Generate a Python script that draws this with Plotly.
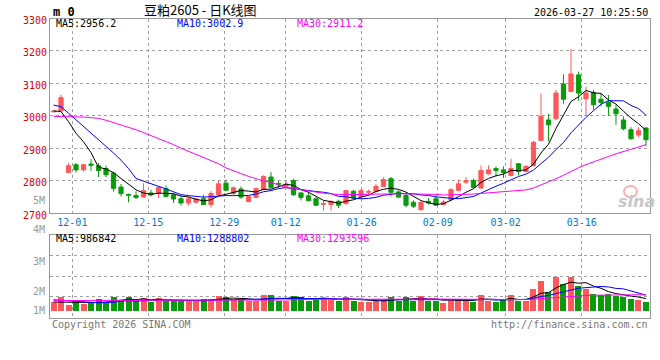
import plotly.graph_objects as go
import pandas as pd

# ---------------- data ----------------
# candle index -1 .. 78 (index -1 is only partly visible at the left edge)
idx = list(range(-1, 79))
opens = [3012, 3015, 2825, 2849, 2833, 2851, 2846, 2837, 2823, 2780,
         2757, 2754, 2749, 2762, 2760, 2775, 2756, 2744, 2731, 2733,
         2744, 2726, 2756, 2792, 2760, 2774, 2735, 2748, 2772, 2811,
         2791, 2782, 2800, 2762, 2753, 2744, 2727, 2726, 2736, 2729,
         2767, 2751, 2764, 2766, 2782, 2806, 2765, 2754, 2733, 2710,
         2736, 2744, 2726, 2741, 2770, 2795, 2800, 2777, 2821, 2837,
         2833, 2816, 2852, 2828, 2846, 2924, 2987, 2991, 3098, 3075,
         3126, 3052, 3072, 3051, 3042, 3021, 2987, 2957, 2941, 2962]
highs = [3015, 3065, 2854, 2854, 2851, 2867, 2854, 2846, 2828, 2790,
         2760, 2767, 2792, 2772, 2782, 2785, 2762, 2751, 2751, 2746,
         2756, 2767, 2800, 2803, 2782, 2782, 2753, 2779, 2816, 2826,
         2800, 2798, 2805, 2764, 2764, 2749, 2738, 2738, 2741, 2770,
         2772, 2774, 2772, 2790, 2810, 2811, 2770, 2762, 2739, 2735,
         2746, 2754, 2741, 2777, 2803, 2811, 2806, 2846, 2847, 2844,
         2844, 2867, 2854, 2847, 2923, 3068, 3006, 3080, 3128, 3206,
         3136, 3090, 3080, 3068, 3064, 3034, 2998, 2965, 2965, 2965]
lows = [3011, 3013, 2824, 2825, 2828, 2830, 2811, 2811, 2766, 2751,
        2733, 2743, 2748, 2751, 2746, 2749, 2731, 2723, 2723, 2731,
        2724, 2717, 2754, 2767, 2756, 2744, 2733, 2746, 2770, 2776,
        2777, 2777, 2753, 2739, 2736, 2721, 2707, 2708, 2715, 2726,
        2743, 2749, 2754, 2764, 2780, 2751, 2746, 2717, 2715, 2708,
        2726, 2722, 2724, 2736, 2767, 2790, 2777, 2775, 2818, 2813,
        2808, 2813, 2816, 2825, 2844, 2922, 2921, 2987, 3037, 3073,
        3046, 3000, 3018, 3029, 3000, 2972, 2955, 2926, 2934, 2907]
closes = [3014, 3056, 2846, 2833, 2849, 2847, 2831, 2818, 2776, 2760,
          2755, 2748, 2769, 2756, 2779, 2751, 2743, 2731, 2744, 2743,
          2726, 2760, 2790, 2770, 2778, 2749, 2751, 2775, 2813, 2779,
          2789, 2789, 2756, 2748, 2738, 2724, 2729, 2736, 2724, 2769,
          2746, 2769, 2766, 2782, 2803, 2764, 2749, 2724, 2721, 2733,
          2731, 2724, 2734, 2772, 2790, 2800, 2779, 2831, 2833, 2831,
          2825, 2837, 2828, 2844, 2918, 2998, 2972, 3070, 3051, 3129,
          3070, 3070, 3034, 3041, 3029, 3006, 2960, 2929, 2954, 2926]
volumes = [700000, 1130000, 480000, 700000, 540000, 700000, 970000, 700000, 1130000, 800000,
           1130000, 800000, 1040000, 700000, 1040000, 770000, 770000, 770000, 880000, 770000,
           970000, 970000, 1230000, 1130000, 880000, 880000, 800000, 800000, 1280000, 1280000,
           830000, 830000, 1200000, 1130000, 830000, 970000, 1040000, 880000, 830000, 1130000,
           830000, 700000, 700000, 830000, 970000, 1130000, 830000, 1130000, 830000, 1200000,
           830000, 830000, 640000, 970000, 970000, 880000, 750000, 1280000, 830000, 750000,
           940000, 1280000, 830000, 830000, 1770000, 2410000, 1530000, 2730000, 2170000, 2730000,
           2010000, 1740000, 1370000, 1280000, 1370000, 1230000, 1150000, 970000, 880000, 750000]

# moving-average values at the left edge (their history lies outside the chart)
ma5_head = [3015, 3013, 2982, 2946]
ma10_head = [3033, 3028, 3008, 2988, 2968, 2948, 2928, 2908, 2885]
ma30_head = [2998, 2998, 2998, 2997, 2996, 2994, 2992, 2986, 2979, 2971,
             2964, 2957, 2948, 2939, 2930, 2921, 2911, 2900, 2890, 2880,
             2870, 2862, 2852, 2839, 2830, 2820, 2813, 2806, 2799]
vma5_head = [720000, 720000, 700000, 660000]
vma10_head = [900000, 860000, 780000, 720000, 680000, 660000, 660000, 680000, 700000]
vma30_head = [840000, 840000, 840000, 840000, 840000, 840000, 840000, 840000, 840000, 840000,
              840000, 840000, 840000, 840000, 840000, 840000, 840000, 840000, 840000, 840000,
              850000, 850000, 860000, 860000, 870000, 870000, 880000, 880000, 880000]

tick_labels = ["12-01", "12-15", "12-29", "01-12", "01-26", "02-09", "03-02", "03-16"]
tick_pos = [1.51, 11.64, 21.77, 29.96, 40.09, 50.23, 59.29, 69.43]
price_ticks = [2700, 2800, 2900, 3000, 3100, 3200, 3300]
ma_text = ["MA5:2956.2", "MA10:3002.9", "MA30:2911.2"]
vma_text = ["MA5:986842", "MA10:1288802", "MA30:1293596"]
vol_labels = ["5M", "4M", "3M", "2M", "1M"]


# ---------------- derived ----------------
def with_head(values, n, head):
    s = pd.Series(values, dtype=float).rolling(n).mean()
    s.iloc[:len(head)] = head
    return s.tolist()

ma5 = with_head(closes, 5, ma5_head)
ma10 = with_head(closes, 10, ma10_head)
ma30 = with_head(closes, 30, ma30_head)
vma5 = with_head(volumes, 5, vma5_head)
vma10 = with_head(volumes, 10, vma10_head)
vma30 = with_head(volumes, 30, vma30_head)

# ---------------- style ----------------
W, H = 660, 360
UP = "#FF5858"
DOWN = "#0A9B0A"
MA_COLORS = ["#000000", "#0000FF", "#FF00FF"]
MONO = "DejaVu Sans Mono"
BORDER = "#999999"
GRID = "#A0A0A0"


def fx(x):
    return x / W


def fy(y):
    return 1 - y / H


X0, X1 = 50, 649.5
XR = [-1.47, 78.47]
V_LO, V_HI = -538000, 6129000

fig = go.Figure()
fig.add_trace(go.Candlestick(
    x=idx, open=opens, high=highs, low=lows, close=closes,
    increasing=dict(line=dict(color=UP, width=1), fillcolor=UP),
    decreasing=dict(line=dict(color=DOWN, width=1), fillcolor=DOWN),
    whiskerwidth=0, xaxis="x", yaxis="y", hoverinfo="skip"))
for series, col in zip([ma5, ma10, ma30], MA_COLORS):
    fig.add_trace(go.Scatter(x=idx, y=series, mode="lines",
                             line=dict(color=col, width=1),
                             xaxis="x", yaxis="y", hoverinfo="skip"))
vol_colors = [UP if c >= o else DOWN for o, c in zip(opens, closes)]
fig.add_trace(go.Bar(x=idx, y=volumes, width=0.8,
                     marker=dict(color=vol_colors, line=dict(width=0)),
                     xaxis="x2", yaxis="y2", hoverinfo="skip"))
for series, col in zip([vma5, vma10, vma30], MA_COLORS):
    fig.add_trace(go.Scatter(x=idx, y=series, mode="lines",
                             line=dict(color=col, width=1),
                             xaxis="x2", yaxis="y2", hoverinfo="skip"))

common = dict(showline=True, mirror=True, linecolor=BORDER, linewidth=1,
              zeroline=False, showgrid=True, gridcolor=GRID, griddash="dot",
              gridwidth=1, ticks="", automargin=False)
q = (V_HI - V_LO) / 4
fig.update_layout(
    width=W, height=H,
    margin=dict(l=0, r=0, t=0, b=0, pad=0, autoexpand=False),
    paper_bgcolor="white", plot_bgcolor="white", showlegend=False,
    boxgap=0.2, bargap=0,
    xaxis=dict(domain=[fx(X0), fx(X1)], range=XR, anchor="y",
               tickmode="array", tickvals=tick_pos, ticktext=tick_labels,
               tickfont=dict(family=MONO, size=10, color="#0A78C8"),
               rangeslider=dict(visible=False), **common),
    yaxis=dict(domain=[fy(213), fy(18.5)], range=[2700, 3300], anchor="x",
               tickmode="array", tickvals=price_ticks,
               ticktext=[str(v) for v in price_ticks], ticklabelshift=2,
               tickfont=dict(family=MONO, size=10, color="#DD0000"), **common),
    xaxis2=dict(domain=[fx(X0), fx(X1)], range=XR, anchor="y2",
                tickmode="array", tickvals=tick_pos, showticklabels=False, **common),
    yaxis2=dict(domain=[fy(317.7), fy(234.7)], range=[V_LO, V_HI], anchor="x2",
                tickmode="array", tickvals=[V_LO + q, V_LO + 2 * q, V_LO + 3 * q],
                showticklabels=False, **common),
)

ann = []


def text(x, y, s, color="#000", size=10, anchor="left", family=MONO):
    ann.append(dict(x=fx(x), y=fy(y), xref="paper", yref="paper", text=s,
                    showarrow=False, xanchor=anchor, yanchor="middle",
                    font=dict(family=family, size=size, color=color)))


text(51, 12, "<b>m 0</b>", size=12)
text(200, 9.5, "豆粕2605 - 日K线图", size=13, anchor="center", family="Noto Sans CJK SC")
text(649.5, 12.5, "2026-03-27 10:25:50", anchor="right")
for s, col, x in zip(ma_text, MA_COLORS, [54, 175, 295]):
    text(x, 24, s, color=col)
for s, col, x in zip(vma_text, MA_COLORS, [54, 175, 295]):
    text(x, 238.5, s, color=col)
for s, y in zip(vol_labels, [200.7, 229.3, 261.3, 291, 310.3]):
    text(47, y, s, color="#999999", anchor="right")
text(50, 324, "Copyright 2026 SINA.COM", color="#777777")
text(649.5, 324, "http://finance.sina.com.cn", color="#777777", anchor="right")
text(636, 201, "<b><i>sina</i></b>", color="#C8C8C8", size=16, anchor="center",
     family="DejaVu Sans")
fig.update_layout(annotations=ann)
fig.add_shape(type="circle", xref="paper", yref="paper",
              x0=fx(624), x1=fx(637), y0=fy(197), y1=fy(186),
              line=dict(color="#F4B4B4", width=2), fillcolor="rgba(0,0,0,0)")

fig.write_html("out.html", config={"staticPlot": True},
               post_script="document.body.style.margin='0';")
